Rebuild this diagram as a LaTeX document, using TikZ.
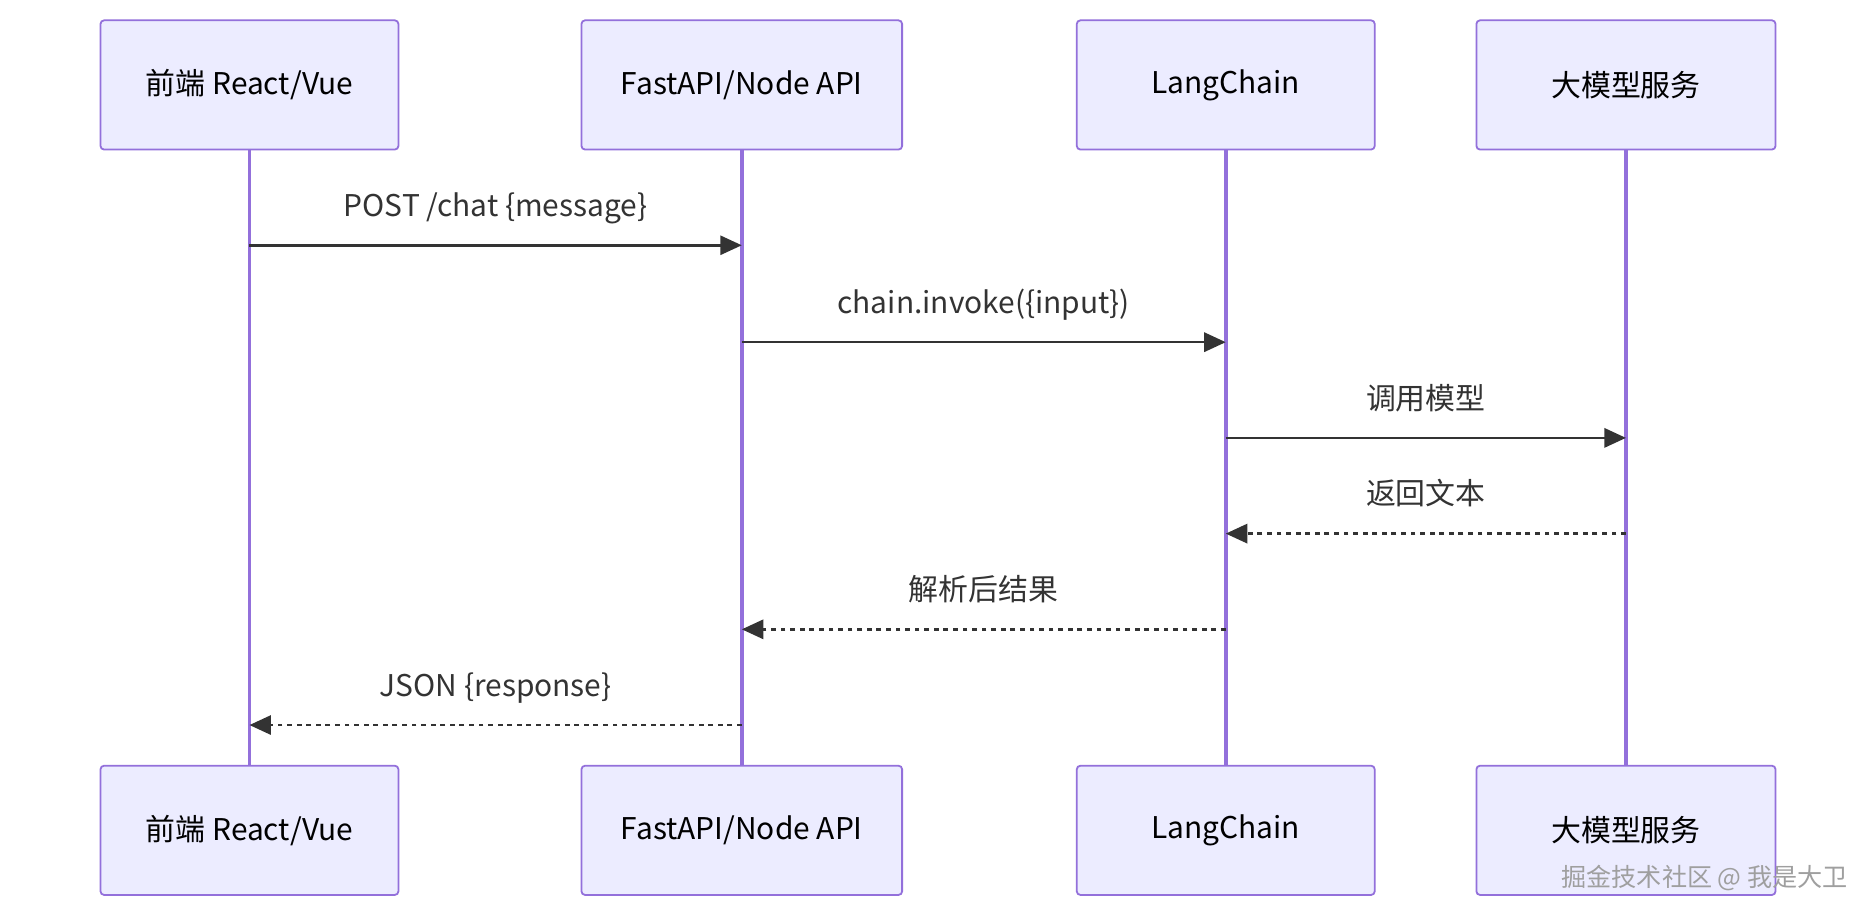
\documentclass[tikz,border=0pt]{standalone}
\usepackage{fontspec}
\setmainfont{Noto Sans CJK SC}
\usetikzlibrary{arrows.meta}
\definecolor{boxFill}{RGB}{236,236,255}
\definecolor{boxDraw}{RGB}{147,112,219}
\definecolor{msgColor}{RGB}{51,51,51}
\tikzset{
  actor/.style={draw=boxDraw,fill=boxFill,line width=1.5pt,rounded corners=3pt,
    minimum height=108pt,inner sep=0pt,font=\fontsize{25}{30}\selectfont},
  lifeline/.style={draw=boxDraw,line width=3pt},
  msg/.style={draw=msgColor,line width=2.2pt,-{Triangle[length=18pt,width=16pt]}},
  reply/.style={msg,dash pattern=on 4pt off 4pt},
  msglabel/.style={text=msgColor,font=\fontsize{25}{30}\selectfont,anchor=base}
}
\begin{document}
\begin{tikzpicture}[x=1pt,y=-1pt]
\path[use as bounding box,fill=white] (0,0) rectangle (1568,767.3);
% actors, top and bottom
\foreach \nm/\cx/\w/\txt in {fe/208.5/249/{前端 React/Vue},api/620/268/{FastAPI/Node API},lc/1024.5/249/{LangChain},llm/1359/250/{大模型服务}}{
  \node[actor,minimum width=\w pt] (\nm-top) at (\cx,71) {\txt};
  \node[actor,minimum width=\w pt] (\nm-bot) at (\cx,694) {\txt};
  \draw[lifeline] (\nm-top.south) -- (\nm-bot.north);
}
% messages
\coordinate (fe1) at (fe-top.south |- 0,205);
\coordinate (api1) at (api-top.south |- 0,205);
\coordinate (api2) at (api-top.south |- 0,286);
\coordinate (lc2) at (lc-top.south |- 0,286);
\coordinate (lc3) at (lc-top.south |- 0,366);
\coordinate (llm3) at (llm-top.south |- 0,366);
\coordinate (llm4) at (llm-top.south |- 0,446);
\coordinate (lc4) at (lc-top.south |- 0,446);
\coordinate (lc5) at (lc-top.south |- 0,526);
\coordinate (api5) at (api-top.south |- 0,526);
\coordinate (api6) at (api-top.south |- 0,606);
\coordinate (fe6) at (fe-top.south |- 0,606);
\draw[msg] (fe1) -- node[msglabel,yshift=24pt] (m1) {POST /chat \{message\}} (api1);
\draw[msg] (api2) -- node[msglabel,yshift=24pt] (m2) {chain.invoke(\{input\})} (lc2);
\draw[msg] (lc3) -- node[msglabel,yshift=24pt] (m3) {调用模型} (llm3);
\draw[reply] (llm4) -- node[msglabel,yshift=24pt] (m4) {返回文本} (lc4);
\draw[reply] (lc5) -- node[msglabel,yshift=24pt] (m5) {解析后结果} (api5);
\draw[reply] (api6) -- node[msglabel,yshift=24pt] (m6) {JSON \{response\}} (fe6);
% watermark
\node[text=gray!75,font=\fontsize{21}{25}\selectfont,anchor=east] (mark) at (1548,734) {掘金技术社区 @ 我是大卫};
\end{tikzpicture}
\end{document}
